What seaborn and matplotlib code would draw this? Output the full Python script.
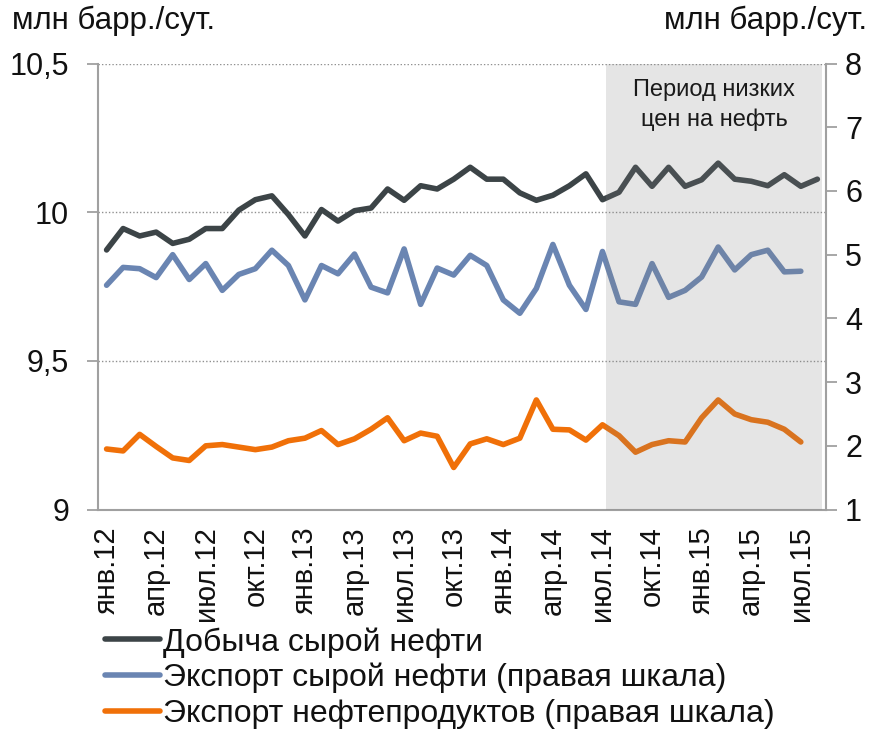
import matplotlib
matplotlib.use("Agg")
import matplotlib.pyplot as plt
import seaborn as sns
import pandas as pd
import numpy as np
from matplotlib.ticker import FuncFormatter

sns.set_theme(style="white")
plt.rcParams['font.family'] = ['Liberation Sans', 'DejaVu Sans']

months = ['янв', 'фев', 'мар', 'апр', 'май', 'июн', 'июл', 'авг', 'сен', 'окт', 'ноя', 'дек']
years = ['12', '13', '14', '15']
periods = [f"{m}.{y}" for y in years for m in months][:44]  # янв.12 .. авг.15

production = [9.873, 9.945, 9.92, 9.933, 9.895, 9.909, 9.945, 9.945, 10.007, 10.042,
              10.055, 9.992, 9.92, 10.009, 9.97, 10.005, 10.014, 10.078, 10.04, 10.089,
              10.078, 10.111, 10.151, 10.111, 10.111, 10.065, 10.04, 10.057, 10.089, 10.129,
              10.042, 10.067, 10.151, 10.087, 10.151, 10.087, 10.109, 10.165, 10.111, 10.104,
              10.089, 10.126, 10.087, 10.111]

crude_export = [4.52, 4.80, 4.78, 4.64, 5.00, 4.61, 4.86, 4.44, 4.69, 4.78,
                5.07, 4.83, 4.29, 4.83, 4.70, 5.01, 4.49, 4.40, 5.09, 4.22,
                4.79, 4.68, 4.99, 4.83, 4.29, 4.08, 4.47, 5.16, 4.52, 4.14,
                5.05, 4.26, 4.22, 4.86, 4.33, 4.44, 4.65, 5.12, 4.76, 5.00,
                5.07, 4.73, 4.74]

products_export = [1.95, 1.92, 2.18, 1.99, 1.81, 1.77, 2.00, 2.02, 1.98, 1.94,
                   1.98, 2.08, 2.12, 2.24, 2.02, 2.11, 2.26, 2.44, 2.08, 2.20,
                   2.15, 1.66, 2.03, 2.11, 2.02, 2.12, 2.72, 2.26, 2.25, 2.09,
                   2.33, 2.16, 1.90, 2.02, 2.08, 2.06, 2.44, 2.72, 2.50, 2.41,
                   2.37, 2.26, 2.06]

names = ['Добыча сырой нефти', 'Экспорт сырой нефти (правая шкала)',
         'Экспорт нефтепродуктов (правая шкала)']
colors = ['#3c4447', '#6a85b2', '#f07008']
low_price_start = 'июл.14'
annotation = 'Период низких\nцен на нефть'
unit = 'млн барр./сут.'

df1 = pd.DataFrame({'x': np.arange(len(production)), 'v': production})
df2 = pd.DataFrame({'x': np.arange(len(crude_export)), 'v': crude_export})
df3 = pd.DataFrame({'x': np.arange(len(products_export)), 'v': products_export})

fig = plt.figure(figsize=(8.7, 7.3), dpi=100)
ax = fig.add_axes([0.113, 0.302, 0.836, 0.611])
ax2 = ax.twinx()

sns.lineplot(data=df1, x='x', y='v', ax=ax, color=colors[0], lw=4, label=names[0], legend=False)
sns.lineplot(data=df2, x='x', y='v', ax=ax2, color=colors[1], lw=4, label=names[1], legend=False)
sns.lineplot(data=df3, x='x', y='v', ax=ax2, color=colors[2], lw=4, label=names[2], legend=False)

n = len(periods)
ax.set_xlim(-0.5, n - 0.5)
ax.set_ylim(9, 10.5)
ax2.set_ylim(1, 8)

# shaded low-price period, drawn above the lines
i0 = periods.index(low_price_start)
ax2.axvspan(i0 + 0.2, n - 0.7, ymin=0, ymax=1, color='#808080', alpha=0.2, lw=0, zorder=5)
ax2.text((i0 + 0.2 + n - 0.7) / 2, 7.35, annotation, ha='center', va='center',
         fontsize=17, color='#1a1a1a', linespacing=1.4, zorder=6)

# grid on left axis
ax.set_yticks([9, 9.5, 10, 10.5])
ax.yaxis.set_major_formatter(FuncFormatter(lambda v, p: f"{v:g}".replace('.', ',')))
for yv in [9.5, 10, 10.5]:
    ax.axhline(yv, color='#909090', lw=1, ls=(0, (1, 1.5)), zorder=0)
ax2.set_yticks(range(1, 9))

# x ticks: labels at every 3rd month centre, tick marks at boundaries
label_idx = list(range(0, n, 3))
ax.set_xticks(label_idx)
ax.set_xticklabels([periods[i] for i in label_idx], rotation=90)
ax.set_xticks([i - 0.5 for i in label_idx], minor=True)
ax.tick_params(axis='x', which='major', length=0, pad=12, labelsize=21, labelcolor='#111111')
ax.tick_params(axis='x', which='minor', length=7, width=1.3, color='#a0a0a0', direction='out')
ax.tick_params(axis='y', which='major', length=8, width=1.3, color='#a0a0a0', direction='out',
               pad=13, labelsize=22, labelcolor='#111111', left=True)
ax2.tick_params(axis='y', which='major', length=8, width=1.3, color='#a0a0a0', direction='out',
                pad=6, labelsize=22, labelcolor='#111111', right=True)
ax.set_xlabel('')
ax.set_ylabel('')
ax2.set_ylabel('')

for a in (ax, ax2):
    a.spines['top'].set_visible(False)
    for s in ('left', 'right', 'bottom'):
        a.spines[s].set_color('#a0a0a0')
        a.spines[s].set_linewidth(1.5)
ax.spines['right'].set_visible(False)
ax2.spines['left'].set_visible(False)
ax2.spines['bottom'].set_visible(False)
ax.grid(False)
ax2.grid(False)

fig.text(12 / 870, 1 - 21 / 730, unit, ha='left', va='center', fontsize=22.5, color='#111111')
fig.text(867 / 870, 1 - 21 / 730, unit, ha='right', va='center', fontsize=22.5, color='#111111')

h1, l1 = ax.get_legend_handles_labels()
h2, l2 = ax2.get_legend_handles_labels()
leg = fig.legend(h1 + h2, l1 + l2, loc='upper left', bbox_to_anchor=(105 / 870, 1 - 627 / 730),
                 frameon=False, fontsize=23, handlelength=1.72, handletextpad=0.1,
                 labelspacing=0.17, borderaxespad=0, borderpad=0)
for t in leg.get_texts():
    t.set_color('#111111')

fig.savefig('out.png', dpi=100)
